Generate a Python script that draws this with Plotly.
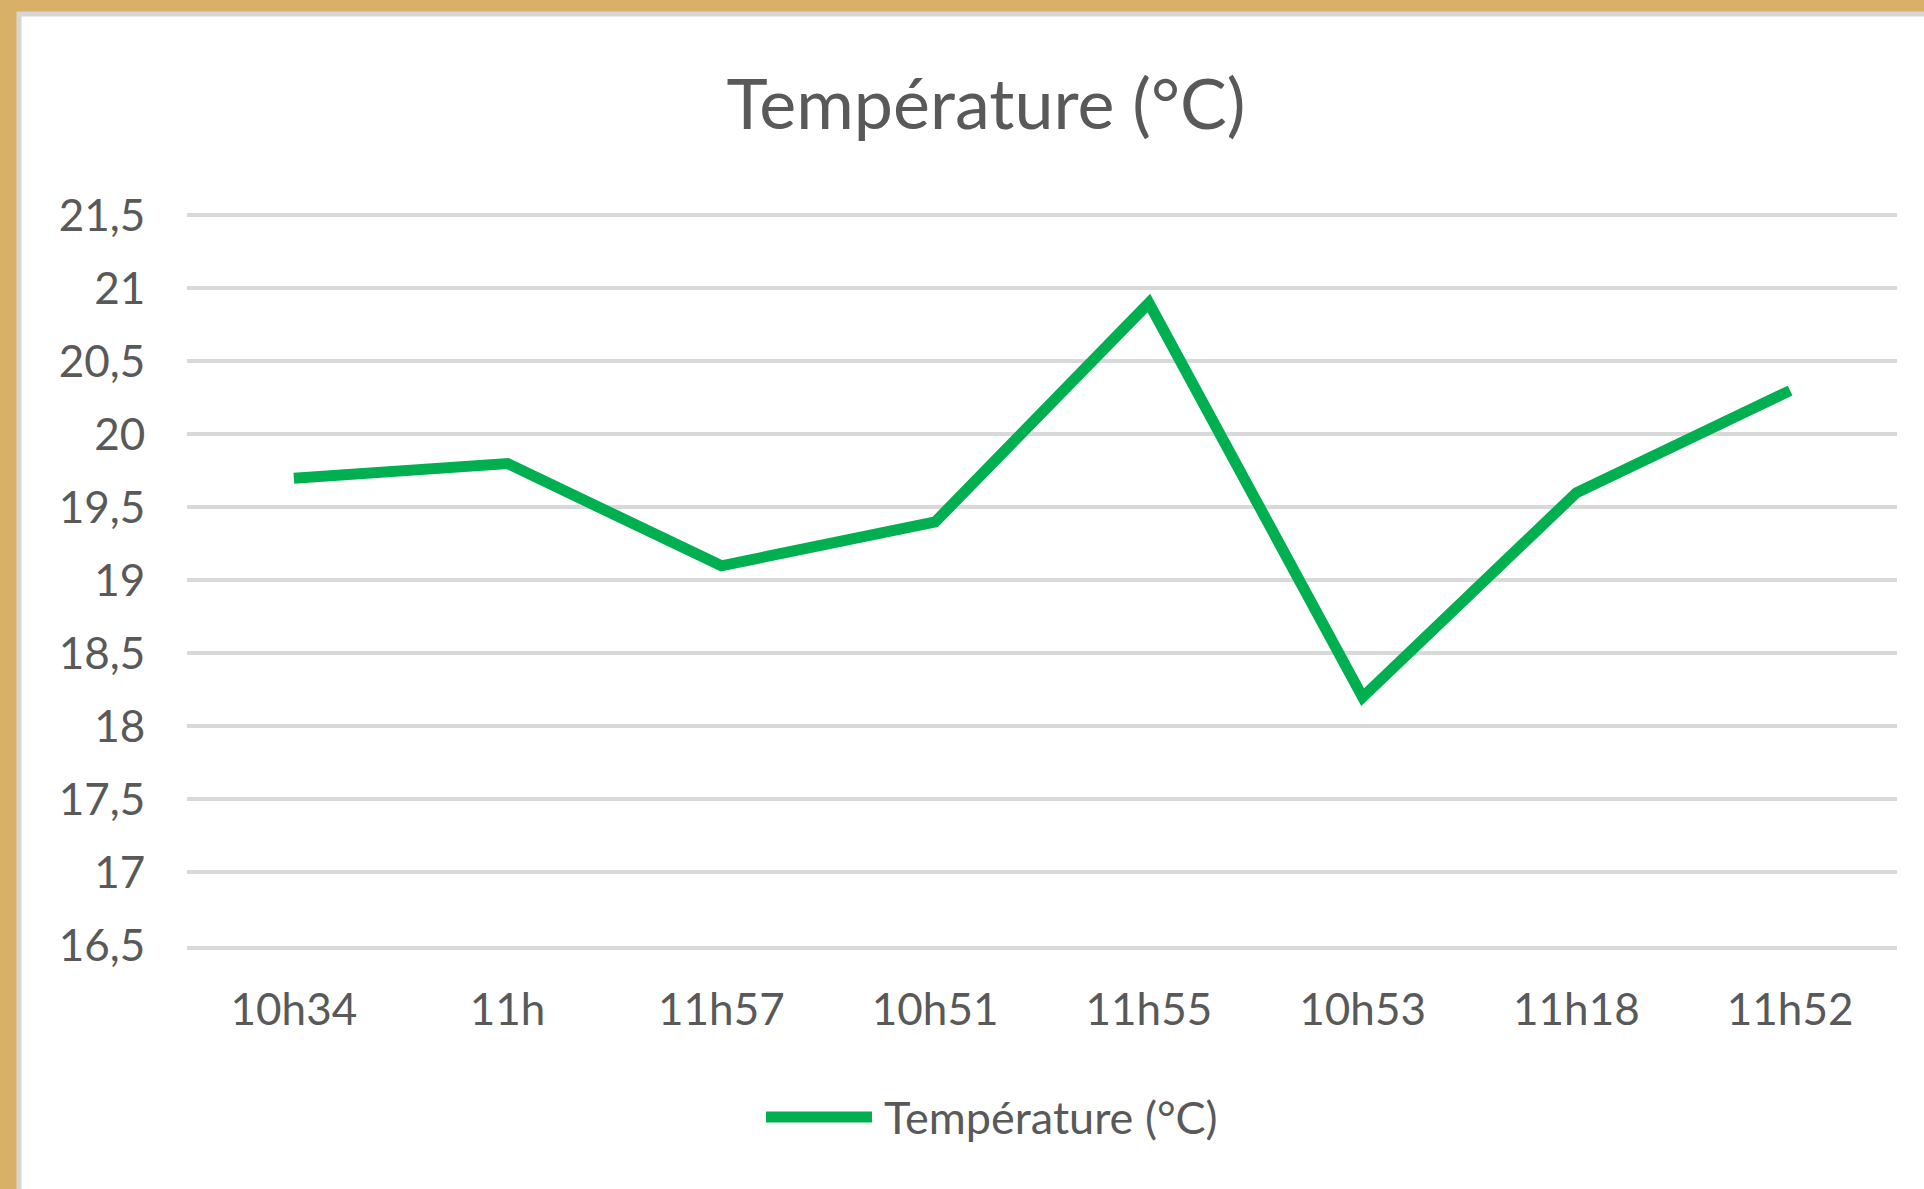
import plotly.graph_objects as go

# ---- data ----
times = ["10h34", "11h", "11h57", "10h51", "11h55", "10h53", "11h18", "11h52"]
temperature = [19.7, 19.8, 19.1, 19.4, 20.9, 18.2, 19.6, 20.3]
series_name = "Température (°C)"
chart_title = "Température (°C)"
y_min, y_max, y_step = 16.5, 21.5, 0.5

# ---- layout constants (pixels) ----
W, H = 1924, 1189
L, R, T, B = 187, 27, 214, 243
PW, PH = W - L - R, H - T - B

def px_x(px):
    return (px - L) / PW

def px_y(py):
    return (H - B - py) / PH

GREEN = "#00B050"
GRAY_TXT = "#595959"
GRID = "#D9D9D9"
FONT = "Lato, 'Open Sans', sans-serif"

fig = go.Figure()
fig.add_trace(go.Scatter(
    x=times, y=temperature, mode="lines", name=series_name,
    line=dict(color=GREEN, width=11), showlegend=False,
))

shapes = [
    # white chart panel with light gray edge
    dict(type="rect", xref="paper", yref="paper",
         x0=px_x(19), x1=px_x(1935), y0=px_y(1200), y1=px_y(14),
         fillcolor="white", line=dict(color="#D6D6D6", width=5), layer="below"),
    # legend swatch
    dict(type="line", xref="paper", yref="paper",
         x0=px_x(766), x1=px_x(872), y0=px_y(1117), y1=px_y(1117),
         line=dict(color=GREEN, width=11)),
]

annotations = [
    dict(text=series_name, xref="paper", yref="paper",
         x=px_x(882), y=px_y(1117), xanchor="left", yanchor="middle",
         showarrow=False, font=dict(family=FONT, size=45, color=GRAY_TXT)),
]

fig.update_layout(
    width=W, height=H,
    margin=dict(l=L, r=R, t=T, b=B, pad=0, autoexpand=False),
    paper_bgcolor="#D8B068",
    plot_bgcolor="white",
    separators=", ",
    font=dict(family=FONT, size=44, color=GRAY_TXT),
    title=dict(text=chart_title, x=px_x(986), xref="paper", xanchor="center",
               y=1 - 104 / H, yref="container", yanchor="middle",
               font=dict(family=FONT, size=70, color=GRAY_TXT)),
    shapes=shapes,
    annotations=annotations,
    showlegend=False,
)

fig.update_xaxes(
    type="category", range=[-0.5, len(times) - 0.5],
    showgrid=False, zeroline=False,
    showline=True, linecolor=GRID, linewidth=4,
    ticks="outside", ticklen=22, tickcolor="rgba(0,0,0,0)",
    tickfont=dict(family=FONT, size=44, color=GRAY_TXT),
    automargin=False,
)
fig.update_yaxes(
    range=[y_min - 0.005, y_max + 0.01], dtick=y_step, tick0=y_min,
    showgrid=True, gridcolor=GRID, gridwidth=4, zeroline=False, showline=False,
    ticks="outside", ticklen=32, tickcolor="rgba(0,0,0,0)",
    tickfont=dict(family=FONT, size=44, color=GRAY_TXT),
    automargin=False,
)

fig.write_html(
    "out.html",
    config={"displayModeBar": False},
    post_script="document.body.style.margin='0';document.body.style.overflow='hidden';",
)
